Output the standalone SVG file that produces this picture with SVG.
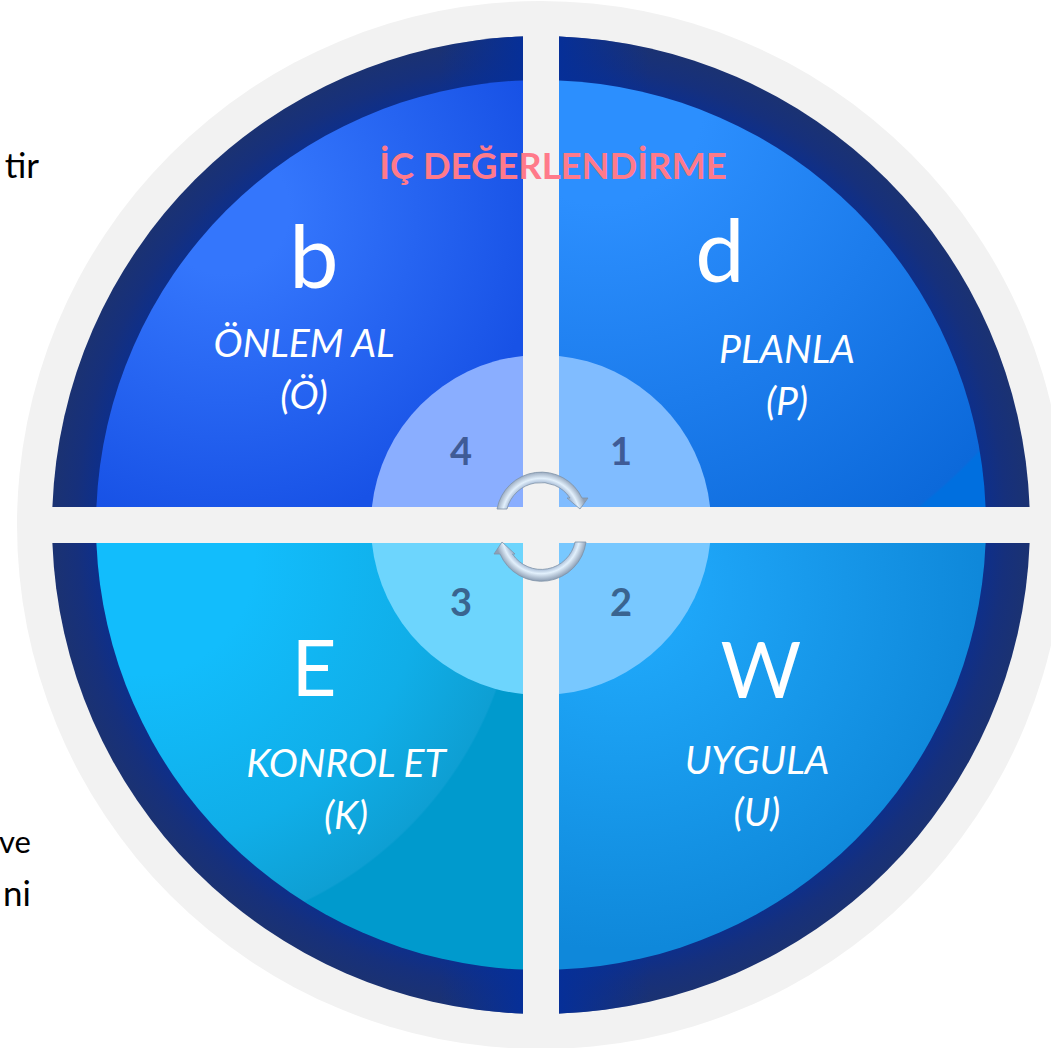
<svg xmlns="http://www.w3.org/2000/svg" width="1051" height="1048" viewBox="0 0 1051 1048">
<style>
text{font-family:"Lato","Open Sans","Noto Sans",sans-serif}
.big{font-size:88px;fill:#fff;text-anchor:middle}
.cap{font-size:78px;fill:#fff;text-anchor:middle}
.lab{font-size:39px;font-style:italic;fill:#fff;text-anchor:middle}
.num{font-size:38px;font-weight:700;text-anchor:middle}
.side{font-size:35px;fill:#000;text-anchor:end}
.arrow{stroke:#7f93a8;stroke-width:.8}
</style>
<defs>
<radialGradient id="ring" gradientUnits="userSpaceOnUse" cx="541" cy="525" r="489"><stop offset=".91" stop-color="#0e2f8a"/><stop offset=".95" stop-color="#16307c"/><stop offset="1" stop-color="#1b3272"/></radialGradient>
<linearGradient id="glowR" gradientUnits="userSpaceOnUse" x1="559" y1="0" x2="650" y2="0"><stop offset="0" stop-color="#062f98"/><stop offset="1" stop-color="#062f98" stop-opacity="0"/></linearGradient>
<linearGradient id="glowL" gradientUnits="userSpaceOnUse" x1="523" y1="0" x2="440" y2="0"><stop offset="0" stop-color="#062f98"/><stop offset="1" stop-color="#062f98" stop-opacity="0"/></linearGradient>
<radialGradient id="tl" gradientUnits="userSpaceOnUse" cx="225" cy="210" r="320"><stop offset=".2" stop-color="#3476fc"/><stop offset="1" stop-color="#1852e6"/></radialGradient>
<radialGradient id="tr" gradientUnits="userSpaceOnUse" cx="600" cy="100" r="518"><stop offset=".2" stop-color="#2c8ffe"/><stop offset=".995" stop-color="#0c69da"/><stop offset="1" stop-color="#006fdf"/></radialGradient>
<radialGradient id="bl" gradientUnits="userSpaceOnUse" cx="140" cy="560" r="380"><stop offset=".3" stop-color="#12bdfc"/><stop offset=".75" stop-color="#10aee8"/><stop offset=".995" stop-color="#0e9fd3"/><stop offset="1" stop-color="#009acd"/></radialGradient>
<radialGradient id="br" gradientUnits="userSpaceOnUse" cx="620" cy="590" r="360"><stop offset=".2" stop-color="#1ea6f8"/><stop offset="1" stop-color="#0f88da"/></radialGradient>
<radialGradient id="arrTop" gradientUnits="userSpaceOnUse" cx="541" cy="517" r="46"><stop offset=".74" stop-color="#a8bcd6"/><stop offset=".84" stop-color="#e2f0fc"/><stop offset="1" stop-color="#8e9fb5"/></radialGradient>
<radialGradient id="arrBot" gradientUnits="userSpaceOnUse" cx="541" cy="535" r="46"><stop offset=".74" stop-color="#a8bcd6"/><stop offset=".84" stop-color="#e2f0fc"/><stop offset="1" stop-color="#8e9fb5"/></radialGradient>
</defs>
<g id="background"><circle cx="541" cy="525" r="524" fill="#f2f2f2"/></g>
<g id="side-text">
<text class="side" x="39" y="178">tir</text>
<text class="side" x="31" y="853" style="font-size:31px">ve</text>
<text class="side" x="31" y="906">ni</text>
</g>
<g id="quadrant-b">
<path d="M523 507H52.400A489 489 0 0 1 523 36.400Z" fill="url(#ring)"/>
<path d="M523 80.400A445 445 0 0 0 96.400 507H52.400A489 489 0 0 1 523 36.400Z" fill="url(#glowL)"/>
<path d="M523 507H96.400A445 445 0 0 1 523 80.400Z" fill="url(#tl)"/>
<path d="M523 507H371.900A170 170 0 0 1 523 355.900Z" fill="#8aaeff"/>
<text class="big" x="314" y="288">b</text>
<text class="lab" x="304" y="357">ÖNLEM AL</text>
<text class="lab" x="304" y="409">(Ö)</text>
<text class="num" x="461" y="465" fill="#3f5b96">4</text>
</g>
<g id="quadrant-d">
<path d="M559 507H1029.600A489 489 0 0 0 559 36.400Z" fill="url(#ring)"/>
<path d="M559 80.400A445 445 0 0 1 985.600 507H1029.600A489 489 0 0 0 559 36.400Z" fill="url(#glowR)"/>
<path d="M559 507H985.600A445 445 0 0 0 559 80.400Z" fill="url(#tr)"/>
<path d="M559 507H710.100A170 170 0 0 0 559 355.900Z" fill="#80bcff"/>
<text class="big" x="720" y="282">d</text>
<text class="lab" x="787" y="363">PLANLA</text>
<text class="lab" x="787" y="415">(P)</text>
<text class="num" x="621" y="465" fill="#3f5b96">1</text>
</g>
<g id="quadrant-e">
<path d="M523 543H52.400A489 489 0 0 0 523 1013.600Z" fill="url(#ring)"/>
<path d="M523 969.600A445 445 0 0 1 96.400 543H52.400A489 489 0 0 0 523 1013.600Z" fill="url(#glowL)"/>
<path d="M523 543H96.400A445 445 0 0 0 523 969.600Z" fill="url(#bl)"/>
<path d="M523 543H371.900A170 170 0 0 0 523 694.100Z" fill="#6dd5fd"/>
<text class="cap" x="314" y="696">E</text>
<text class="lab" x="346" y="777">KONROL ET</text>
<text class="lab" x="346" y="829">(K)</text>
<text class="num" x="461" y="616" fill="#3a6490">3</text>
</g>
<g id="quadrant-w">
<path d="M559 543H1029.600A489 489 0 0 1 559 1013.600Z" fill="url(#ring)"/>
<path d="M559 969.600A445 445 0 0 0 985.600 543H1029.600A489 489 0 0 1 559 1013.600Z" fill="url(#glowR)"/>
<path d="M559 543H985.600A445 445 0 0 1 559 969.600Z" fill="url(#br)"/>
<path d="M559 543H710.100A170 170 0 0 1 559 694.100Z" fill="#78c8ff"/>
<text class="cap" x="761" y="698">W</text>
<text class="lab" x="757" y="774">UYGULA</text>
<text class="lab" x="757" y="826">(U)</text>
<text class="num" x="621" y="616" fill="#3a6490">2</text>
</g>
<g id="title"><text x="553" y="179" font-size="36.400" font-weight="700" fill="#ff7a8a" text-anchor="middle">İÇ DEĞERLENDİRME</text></g>
<g id="connectors">
<path class="arrow" fill="url(#arrTop)" d="M497 509A45 45 0 0 1 582 498L588 498L580 509L567 498L570 498A35 35 0 0 0 507 509Z"/>
<path class="arrow" fill="url(#arrBot)" d="M586 542A45 45 0 0 1 500 554L494 554L502 542L515 554L512.500 554A34.500 34.500 0 0 0 575 542Z"/>
</g>
</svg>
